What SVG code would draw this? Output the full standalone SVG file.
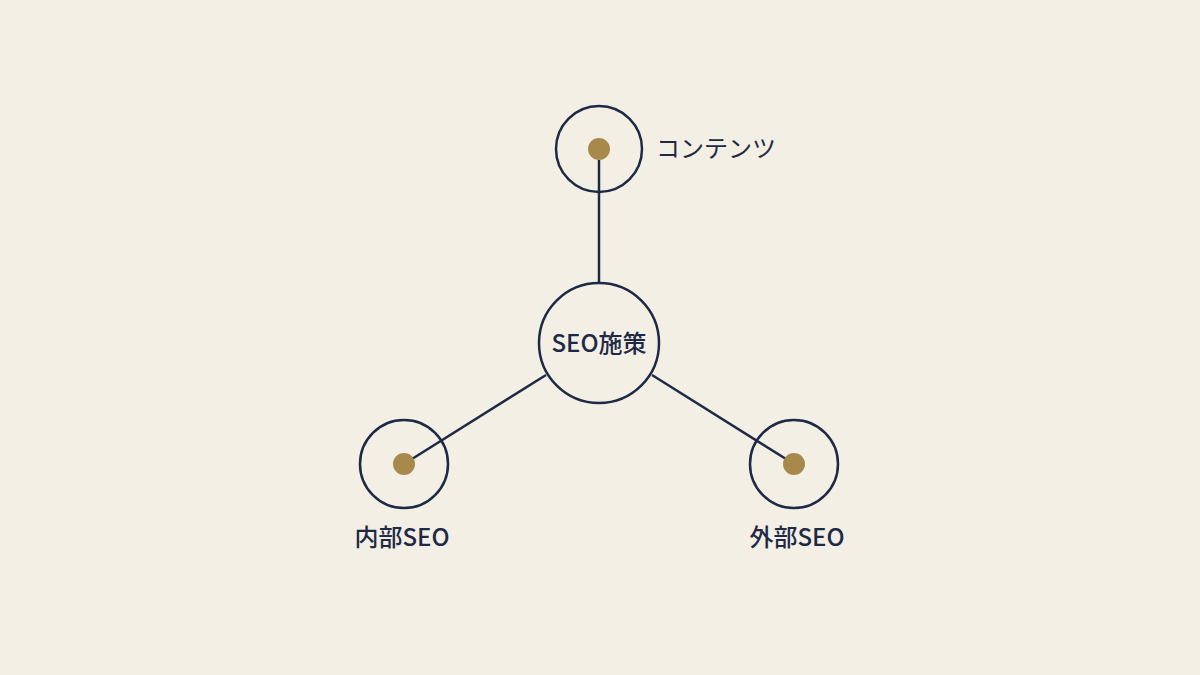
<svg xmlns="http://www.w3.org/2000/svg" width="1200" height="675" viewBox="0 0 1200 675">
<style>
.ring{fill:none;stroke:#1e2a45;stroke-width:2.5}
.dot{fill:#a8894c}
.edge{stroke:#1e2a45;stroke-width:2.5;fill:none}
.lbl{font-family:"Noto Sans CJK JP","Noto Sans",sans-serif;font-size:24px;fill:#1e2a45;font-weight:500}
.reg{font-weight:400}
</style>
<rect width="1200" height="675" fill="#f3efe5"/>
<g id="connectors">
<line class="edge" x1="599" y1="160" x2="599" y2="283"/>
<line class="edge" x1="546" y1="375" x2="404" y2="464"/>
<line class="edge" x1="652" y1="375" x2="794" y2="464"/>
</g>
<g id="center">
<circle class="ring" cx="599" cy="343" r="60" fill="#f3efe5"/>
<text class="lbl" x="599" y="352" text-anchor="middle">SEO施策</text>
</g>
<g id="contents">
<circle class="ring" cx="599" cy="149" r="43"/>
<circle class="dot" cx="599" cy="149" r="11"/>
<text class="lbl reg" x="656" y="157">コンテンツ</text>
</g>
<g id="internal">
<circle class="ring" cx="404" cy="464" r="44"/>
<circle class="dot" cx="404" cy="464" r="11"/>
<text class="lbl" x="402" y="546" text-anchor="middle">内部SEO</text>
</g>
<g id="external">
<circle class="ring" cx="794" cy="464" r="44"/>
<circle class="dot" cx="794" cy="464" r="11"/>
<text class="lbl" x="797" y="546" text-anchor="middle">外部SEO</text>
</g>
</svg>
